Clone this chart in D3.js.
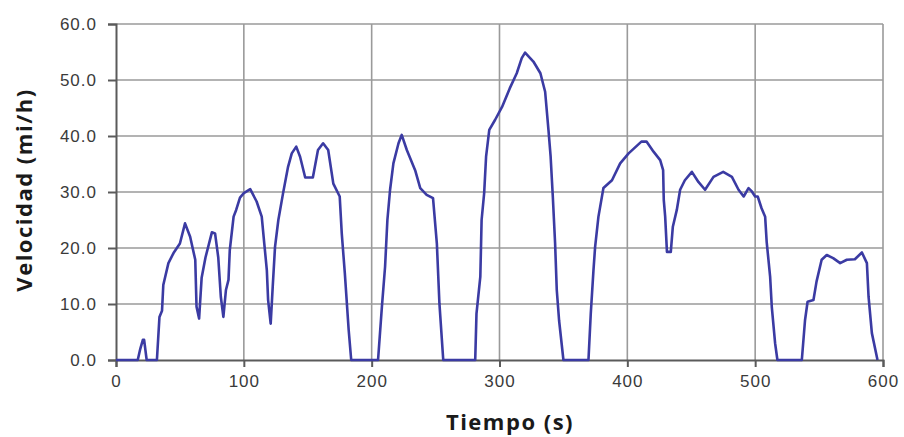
<!DOCTYPE html>
<html lang="es">
<head>
<meta charset="UTF-8" />
<script src="https://d3js.org/d3.v7.min.js"></script>
<style>
  body { margin: 0; background: #fff; }
</style>
</head>
<body>
<div id="chart"></div>
<script>
// datos
var tiempo = [0, 17, 19, 21, 22, 24, 32, 34, 36, 37, 41, 45, 50, 54, 58, 62, 63, 65, 67, 70,
  75, 77.5, 80, 82, 84, 86, 88, 89, 92, 94, 97, 100, 105, 110, 114, 116, 118, 119, 121, 122.6,
  124.4, 127, 130.7, 134.6, 137.5, 141, 144, 148, 154, 158, 162, 166, 170, 175, 176.6, 179, 182, 184,
  205, 208, 210.5, 212.3, 214.4, 217, 221, 223.5, 227.5, 234, 238, 243, 248, 251, 253, 256,
  281, 282, 285, 286, 288, 289.5, 292, 296.6, 302, 308, 313.5, 317.4, 320, 326.5, 332, 335.7,
  338.3, 340, 341.7, 343.5, 344.8, 346.6, 350, 369.6, 371.4, 373.5, 374.8, 377.4, 381.3, 388,
  394.4, 401, 411, 415, 420.5, 425.7, 428, 428.5, 429.6, 431, 434, 435.6, 438.7, 441.3, 445,
  450.5, 455.6, 460.8, 467.4, 475, 481.8, 487, 491, 494.8, 497.4, 500, 502, 505, 507.8, 509,
  511.7, 513, 515.6, 517.4, 536.5, 539, 541, 545.6, 548, 552, 556, 561, 566.5, 571.7, 578,
  583.5, 587.4, 588.7, 591.3, 595.7];
var velocidad = [0, 0, 2, 3.6, 3.6, 0, 0, 7.7, 8.8, 13.4, 17.3, 19.1, 20.8, 24.4, 22, 17.9, 9.5, 7.4, 14.7, 18.3,
  22.8, 22.6, 18.3, 11.3, 7.7, 12.5, 14.3, 19.6, 25.6, 26.8, 29, 29.8, 30.5, 28.3, 25.6, 20.8, 16, 10.7, 6.5, 13.1,
  20.2, 25, 29.8, 34.5, 36.9, 38.1, 36.3, 32.6, 32.6, 37.5, 38.7, 37.5, 31.5, 29.2, 22.6, 15.5, 5.4, 0,
  0, 9.5, 16.7, 25, 30.4, 35.1, 38.7, 40.2, 37.5, 33.9, 30.7, 29.5, 28.9, 20.8, 10.1, 0,
  0, 8.3, 14.9, 25, 29.8, 36.3, 41.1, 42.9, 45.2, 48.5, 51.2, 53.9, 54.9, 53.3, 51.2, 47.9,
  41.1, 36.3, 29.2, 20.8, 12.5, 7.1, 0, 0, 8.3, 16, 20.2, 25.6, 30.7, 32.1,
  35.1, 36.9, 39, 39, 37.2, 35.7, 33.9, 28.6, 25.6, 19.3, 19.3, 23.8, 26.8, 30.4, 32.1,
  33.6, 31.8, 30.4, 32.7, 33.6, 32.7, 30.4, 29.2, 30.7, 30.1, 29.2, 29.2, 27.1, 25.6, 21.1,
  14.9, 9.5, 3, 0, 0, 7.1, 10.4, 10.7, 14, 17.9, 18.75, 18.2, 17.3, 17.9, 18,
  19.2, 17.3, 11.3, 4.8, 0];
var xTicks = [0, 100, 200, 300, 400, 500, 600];
var yTicks = [0, 10, 20, 30, 40, 50, 60];

var width = 904, height = 437;
var margin = {top: 24, right: 21, bottom: 77, left: 116};

var svg = d3.select("#chart").append("svg")
  .attr("width", width)
  .attr("height", height)
  .style("font-family", "'Liberation Sans', Arial, sans-serif");

var x = d3.scaleLinear().domain([0, 600]).range([margin.left, width - margin.right]);
var y = d3.scaleLinear().domain([0, 60]).range([height - margin.bottom, margin.top]);

// cuadricula
svg.append("g").selectAll("line.h")
  .data(yTicks.filter(function(d) { return d > 0; }))
  .enter().append("line")
  .attr("x1", x(0)).attr("x2", x(600))
  .attr("y1", function(d) { return y(d); }).attr("y2", function(d) { return y(d); })
  .attr("stroke", "#9a9a9a").attr("stroke-width", 1.6);

svg.append("g").selectAll("line.v")
  .data(xTicks.filter(function(d) { return d > 0; }))
  .enter().append("line")
  .attr("x1", function(d) { return x(d); }).attr("x2", function(d) { return x(d); })
  .attr("y1", y(60)).attr("y2", y(0))
  .attr("stroke", "#9a9a9a").attr("stroke-width", 1.6);

// ejes
var xAxis = svg.append("g")
  .attr("transform", "translate(0," + y(0) + ")")
  .call(d3.axisBottom(x).tickValues(xTicks).tickSize(7).tickPadding(8));
var yAxis = svg.append("g")
  .attr("transform", "translate(" + x(0) + ",0)")
  .call(d3.axisLeft(y).tickValues(yTicks).tickSize(8).tickPadding(11)
    .tickFormat(d3.format(".1f")));

[xAxis, yAxis].forEach(function(g) {
  g.select(".domain").attr("stroke", "#5a5a5a").attr("stroke-width", 2);
  g.selectAll(".tick line").attr("stroke", "#5a5a5a").attr("stroke-width", 2);
  g.selectAll(".tick text")
    .attr("fill", "#3a3a3a")
    .style("font-size", "17px")
    .style("letter-spacing", "1px");
});

// linea
var line = d3.line()
  .x(function(d, i) { return x(tiempo[i]); })
  .y(function(d) { return y(d); });

svg.append("path")
  .datum(velocidad)
  .attr("d", line)
  .attr("fill", "none")
  .attr("stroke", "#3b3ba3")
  .attr("stroke-width", 2.6)
  .attr("stroke-linejoin", "round");

// titulos
svg.append("text")
  .attr("x", 510).attr("y", 430)
  .attr("text-anchor", "middle")
  .style("font-family", "'Open Sans', sans-serif")
  .style("font-weight", "bold")
  .style("font-size", "22px")
  .style("letter-spacing", "1.5px")
  .attr("fill", "#1a1a1a")
  .text("Tiempo (s)");

svg.append("text")
  .attr("transform", "translate(32,190) rotate(-90)")
  .attr("text-anchor", "middle")
  .style("font-family", "'Open Sans', sans-serif")
  .style("font-weight", "bold")
  .style("font-size", "22px")
  .style("letter-spacing", "1.5px")
  .attr("fill", "#1a1a1a")
  .text("Velocidad (mi/h)");
</script>
</body>
</html>
